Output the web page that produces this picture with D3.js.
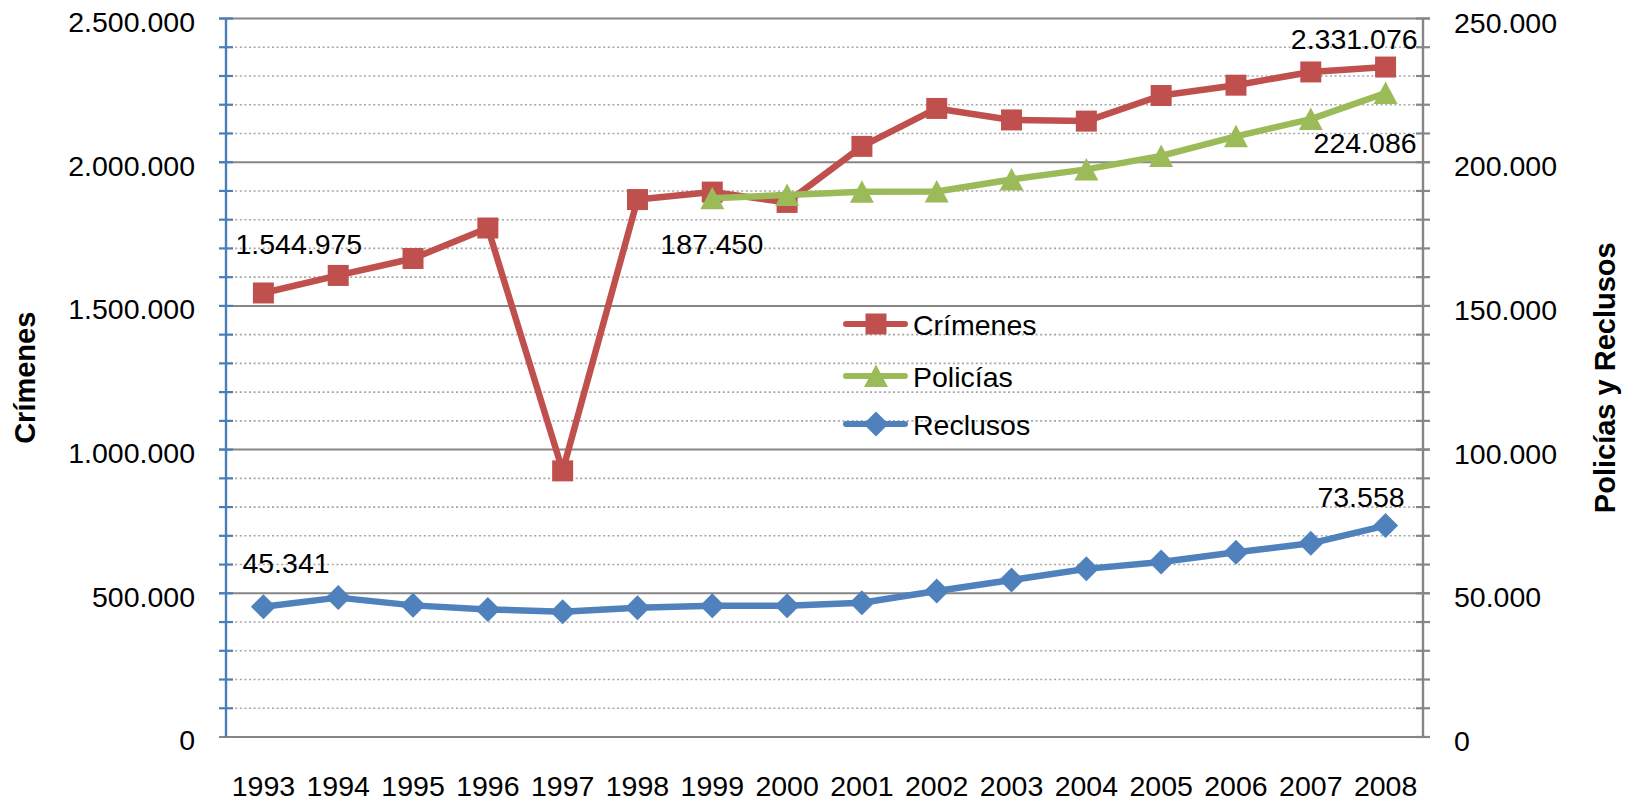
<!DOCTYPE html>
<html>
<head>
<meta charset="utf-8">
<script src="https://cdn.jsdelivr.net/npm/d3@7"></script>
<style>
  html, body { margin: 0; padding: 0; background: #fff; }
  svg { display: block; font-family: "Liberation Sans", Arial, sans-serif; }
</style>
</head>
<body>
<svg id="chart" width="1637" height="801"></svg>
<script>
// ---- DATA ----
const years = [1993, 1994, 1995, 1996, 1997, 1998, 1999, 2000, 2001, 2002, 2003, 2004, 2005, 2006, 2007, 2008];
const crimenes = [1544975, 1606000, 1665000, 1771000, 926000, 1870000, 1896000, 1860000, 2055000, 2187000, 2147000, 2143000, 2232000, 2268000, 2314000, 2331076];
const policias = [null, null, null, null, null, null, 187450, 188600, 189700, 189800, 194000, 197500, 202200, 209000, 215000, 224086];
const reclusos = [45341, 48500, 45800, 44400, 43600, 45000, 45700, 45700, 46700, 50800, 54600, 58500, 60900, 64300, 67400, 73558];
const leftTicks = [0, 500000, 1000000, 1500000, 2000000, 2500000];
const rightTicks = [0, 50000, 100000, 150000, 200000, 250000];
const seriesNames = ["Crímenes", "Policías", "Reclusos"];
const axisTitles = ["Crímenes", "Policías y Reclusos"];

(function () {
// ---- LAYOUT ----
const svg = d3.select("#chart");
const pLeft = 226, pRight = 1423, pTop = 18.5, pBottom = 737;
const FONT = 28.5;
const colors = { red: "#C0504D", green: "#9BBB59", blue: "#4F81BD" };
const axisGray = "#868686";

const x = d3.scalePoint().domain(years).range([pLeft, pRight]).padding(0.5);
const y = d3.scaleLinear().domain([0, 2500000]).range([pBottom, pTop]);
const yR = d3.scaleLinear().domain([0, 250000]).range([pBottom, pTop]);

const loc = d3.formatLocale({ decimal: ",", thousands: ".", grouping: [3], currency: ["", ""] });
const fmt = loc.format(",d");

svg.append("rect").attr("width", 1637).attr("height", 801).attr("fill", "#fff");

// gridlines (minor dotted every 100k, major solid every 500k)
const minor = d3.range(100000, 2500001, 100000).filter(v => v % 500000 !== 0);
svg.append("g").selectAll("line").data(minor).join("line")
  .attr("x1", pLeft).attr("x2", pRight - 6)
  .attr("y1", d => y(d)).attr("y2", d => y(d))
  .attr("stroke", "#A6A6A6").attr("stroke-width", 1.6).attr("stroke-dasharray", "2,2.6");
svg.append("g").selectAll("line").data(leftTicks).join("line")
  .attr("x1", pLeft - 7).attr("x2", pRight + 7)
  .attr("y1", d => y(d)).attr("y2", d => y(d))
  .attr("stroke", axisGray).attr("stroke-width", 2);

// left axis (blue)
const allTicks = d3.range(0, 2500001, 100000);
const gL = svg.append("g").attr("transform", `translate(${pLeft},0)`);
gL.append("line").attr("x1", 0).attr("x2", 0).attr("y1", pTop).attr("y2", pBottom)
  .attr("stroke", "#4A7EBB").attr("stroke-width", 2.4);
gL.selectAll(".tk").data(allTicks.filter(v => v > 0)).join("line").attr("class", "tk")
  .attr("x1", -7).attr("x2", 7).attr("y1", d => y(d)).attr("y2", d => y(d))
  .attr("stroke", "#4A7EBB").attr("stroke-width", 2.2);
const axL = d3.axisLeft(y).tickValues(leftTicks).tickSize(0).tickPadding(31).tickFormat(fmt);
gL.append("g").call(axL).call(g => {
  g.select(".domain").remove();
  g.selectAll("text").attr("font-size", FONT).attr("font-family", "Liberation Sans, Arial")
    .attr("fill", "#000").attr("dy", "0.45em");
});

// right axis (gray)
const gR = svg.append("g").attr("transform", `translate(${pRight},0)`);
gR.append("line").attr("x1", 0).attr("x2", 0).attr("y1", pTop).attr("y2", pBottom)
  .attr("stroke", axisGray).attr("stroke-width", 2.4);
const allTicksR = d3.range(0, 250001, 10000);
gR.selectAll(".tk").data(allTicksR).join("line").attr("class", "tk")
  .attr("x1", -7).attr("x2", 7).attr("y1", d => yR(d)).attr("y2", d => yR(d))
  .attr("stroke", axisGray).attr("stroke-width", 2.2);
const axR = d3.axisRight(yR).tickValues(rightTicks).tickSize(0).tickPadding(31).tickFormat(fmt);
gR.append("g").call(axR).call(g => {
  g.select(".domain").remove();
  g.selectAll("text").attr("font-size", FONT).attr("font-family", "Liberation Sans, Arial")
    .attr("fill", "#000").attr("dy", "0.48em");
});

// x labels
svg.append("g").selectAll("text").data(years).join("text")
  .attr("x", d => x(d)).attr("y", 796)
  .attr("text-anchor", "middle").attr("font-size", FONT).text(d => d);

// axis titles
svg.append("text").attr("transform", `translate(35,${(pTop + pBottom) / 2}) rotate(-90)`)
  .attr("text-anchor", "middle").attr("font-size", 29).attr("font-weight", "bold").text(axisTitles[0]);
svg.append("text").attr("transform", `translate(1615,${(pTop + pBottom) / 2}) rotate(-90)`)
  .attr("text-anchor", "middle").attr("font-size", 29).attr("font-weight", "bold").text(axisTitles[1]);

// series
const LW = 6.5;
function pts(vals, sc) {
  return years.map((yr, i) => ({ yr, v: vals[i], px: x(yr), py: vals[i] == null ? null : sc(vals[i]) }))
    .filter(d => d.v != null);
}
const line = d3.line().x(d => d.px).y(d => d.py);

// marker shapes (Excel-like)
const sq = "M-10.5,-10.5H10.5V10.5H-10.5Z";
const tri = "M0,-11.5L12,11L-12,11Z";
const dia = "M0,-12.5L12.5,0L0,12.5L-12.5,0Z";

function drawSeries(vals, sc, color, sym) {
  const p = pts(vals, sc);
  svg.append("path").datum(p).attr("d", line).attr("fill", "none")
    .attr("stroke", color).attr("stroke-width", LW).attr("stroke-linejoin", "round").attr("stroke-linecap", "round");
  svg.append("g").selectAll("path").data(p).join("path")
    .attr("transform", d => `translate(${d.px},${d.py})`)
    .attr("d", sym).attr("fill", color);
  return p;
}
const pC = drawSeries(crimenes, y, colors.red, sq);
const pP = drawSeries(policias, yR, colors.green, tri);
const pRc = drawSeries(reclusos, yR, colors.blue, dia);

// data labels
const labels = [
  { p: pC[0], anchor: "start", dx: -28, dy: -39 },
  { p: pC[pC.length - 1], anchor: "end", dx: 32, dy: -17.7 },
  { p: pP[0], anchor: "start", dx: -52, dy: 56 },
  { p: pP[pP.length - 1], anchor: "end", dx: 31, dy: 60 },
  { p: pRc[0], anchor: "start", dx: -21, dy: -34 },
  { p: pRc[pRc.length - 1], anchor: "end", dx: 19, dy: -19 }
];
svg.append("g").selectAll("text").data(labels).join("text")
  .attr("x", d => d.p.px + d.dx).attr("y", d => d.p.py + d.dy)
  .attr("text-anchor", d => d.anchor).attr("font-size", FONT).text(d => fmt(d.p.v));

// legend
const legendItems = [
  { name: seriesNames[0], color: colors.red, sym: sq, ly: 324 },
  { name: seriesNames[1], color: colors.green, sym: tri, ly: 376 },
  { name: seriesNames[2], color: colors.blue, sym: dia, ly: 424 }
];
const lg = svg.append("g");
legendItems.forEach(it => {
  lg.append("line").attr("x1", 846).attr("x2", 905).attr("y1", it.ly).attr("y2", it.ly)
    .attr("stroke", it.color).attr("stroke-width", 6).attr("stroke-linecap", "round");
  lg.append("path").attr("transform", `translate(876,${it.ly})`).attr("d", it.sym).attr("fill", it.color);
  lg.append("text").attr("x", 913).attr("y", it.ly + 10.5).attr("font-size", FONT).text(it.name);
});
})();
</script>
</body>
</html>
